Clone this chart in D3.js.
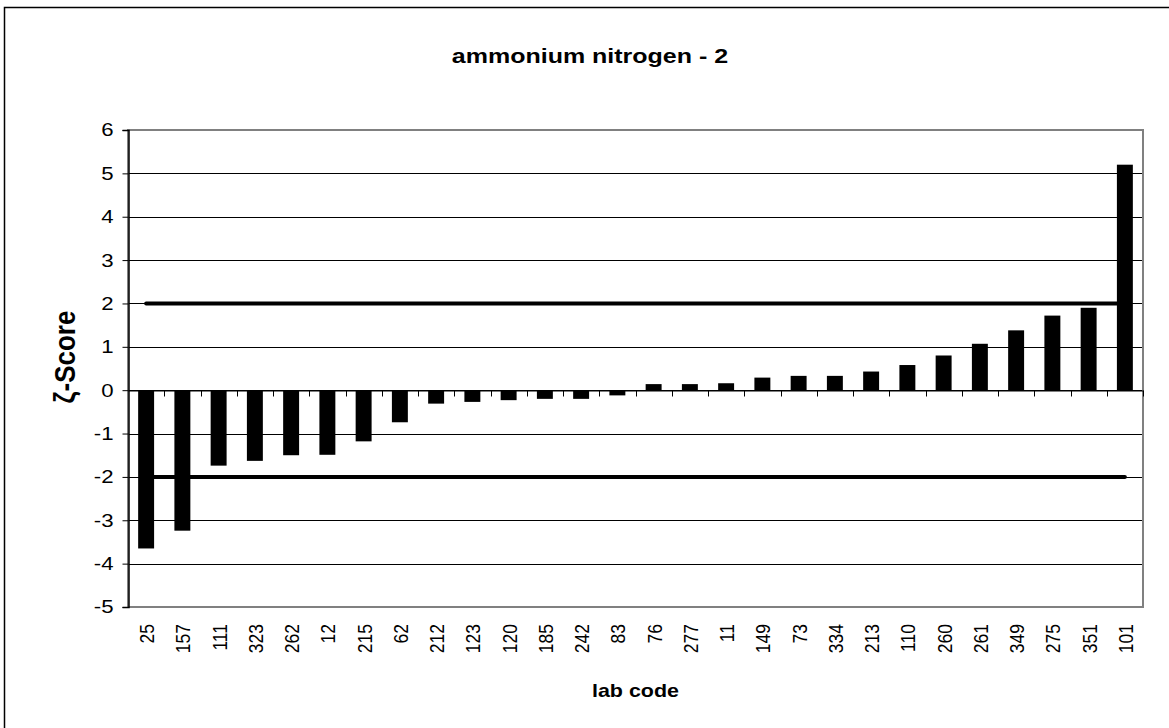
<!DOCTYPE html>
<html>
<head>
<meta charset="utf-8">
<script src="https://cdn.jsdelivr.net/npm/d3@7/dist/d3.min.js"></script>
<style>
  html, body { margin: 0; padding: 0; background: #fff; }
  svg { display: block; }
  text { font-family: "Liberation Sans", Arial, sans-serif; fill: #000; }
</style>
</head>
<body>
<svg id="chart" width="1169" height="728"></svg>
<script>
// Lab codes, sorted by score
const labCodes = ["25","157","111","323","262","12","215","62","212","123","120","185","242","83",
                  "76","277","11","149","73","334","213","110","260","261","349","275","351","101"];
// Zeta scores per lab
const zetaScores = [-3.65,-3.24,-1.74,-1.63,-1.50,-1.49,-1.18,-0.74,-0.31,-0.27,-0.23,-0.20,-0.20,-0.12,
                    0.14,0.14,0.16,0.29,0.33,0.33,0.43,0.58,0.80,1.07,1.38,1.72,1.90,5.20];
// Acceptance limits
const limits = [2, -2];
// Y axis ticks
const yTicks = [-5,-4,-3,-2,-1,0,1,2,3,4,5,6];

const svg = d3.select("#chart");
const W = 1169, H = 728;
const plot = { left: 128, right: 1143, top: 130, bottom: 607 };
// Horizontal widening applied to all lettering
const SX = 1.2;

// Outer chart frame
svg.append("rect")
  .attr("x", 4.5).attr("y", 7.5)
  .attr("width", W + 20).attr("height", H + 20)
  .attr("fill", "none").attr("stroke", "#000").attr("stroke-width", 1.5);

const x = d3.scaleBand()
  .domain(labCodes)
  .range([plot.left, plot.right])
  .paddingInner(0.56)
  .paddingOuter(0.28);

const y = d3.scaleLinear()
  .domain([-5, 6])
  .range([plot.bottom, plot.top]);

// Horizontal grid lines
svg.append("g")
  .selectAll("line")
  .data(yTicks)
  .join("line")
  .attr("x1", plot.left).attr("x2", plot.right)
  .attr("y1", d => Math.round(y(d)) + 0.5).attr("y2", d => Math.round(y(d)) + 0.5)
  .attr("stroke", "#000").attr("stroke-width", 1);

// Plot area border
svg.append("rect")
  .attr("x", plot.left).attr("y", plot.top)
  .attr("width", plot.right - plot.left).attr("height", plot.bottom - plot.top)
  .attr("fill", "none").attr("stroke", "#808080").attr("stroke-width", 2);

// Limit lines, from the first to the last category centre
const firstC = x(labCodes[0]) + x.bandwidth() / 2;
const lastC = x(labCodes[labCodes.length - 1]) + x.bandwidth() / 2;
const step = x.step();
svg.append("g")
  .selectAll("line")
  .data(limits)
  .join("line")
  .attr("x1", firstC).attr("x2", lastC)
  .attr("y1", d => y(d)).attr("y2", d => y(d))
  .attr("stroke", "#000").attr("stroke-width", 4).attr("stroke-linecap", "round");

// Bars
svg.append("g")
  .selectAll("rect")
  .data(labCodes.map((c, i) => ({ code: c, v: zetaScores[i] })))
  .join("rect")
  .attr("x", d => x(d.code))
  .attr("width", x.bandwidth())
  .attr("y", d => y(Math.max(0, d.v)))
  .attr("height", d => Math.abs(y(d.v) - y(0)))
  .attr("fill", "#000");

// X axis at zero with category tick marks between bars
const xAxis = d3.axisBottom(x).tickSize(0).tickFormat("");
const xg = svg.append("g").attr("transform", `translate(0,${Math.round(y(0)) + 0.5})`).call(xAxis);
xg.select(".domain").attr("stroke", "#000").attr("stroke-width", 1);
const boundaries = d3.range(1, labCodes.length + 1).map(i => plot.left + i * step);
xg.selectAll(".sep")
  .data(boundaries)
  .join("line")
  .attr("class", "sep")
  .attr("x1", d => Math.round(d) + 0.5).attr("x2", d => Math.round(d) + 0.5)
  .attr("y1", 0).attr("y2", 6)
  .attr("stroke", "#000");

// Y axis
const yAxis = d3.axisLeft(y).tickValues(yTicks).tickSize(6).tickFormat(d => String(d));
const yg = svg.append("g").attr("transform", `translate(${plot.left + 0.5},0)`).call(yAxis);
yg.select(".domain").attr("stroke", "#000").attr("stroke-width", 1.5);
yg.selectAll(".tick line").attr("stroke", "#000");
yg.selectAll(".tick text")
  .attr("x", -15 / SX)
  .attr("transform", `scale(${SX},1)`)
  .style("font-family", '"Liberation Sans", Arial, sans-serif')
  .style("font-size", "18.5px")
  .attr("fill", "#000");

// Rotated category labels
svg.append("g")
  .selectAll("text")
  .data(labCodes)
  .join("text")
  .attr("transform", d => `translate(${x(d) + x.bandwidth() / 2 + 8},624) rotate(-90) scale(1,${SX})`)
  .attr("text-anchor", "end")
  .style("font-size", "17.5px")
  .text(d => d);

// Title
svg.append("text")
  .attr("transform", "translate(590,63) scale(1.19,1)")
  .attr("text-anchor", "middle")
  .style("font-size", "21px").style("font-weight", "bold")
  .text("ammonium nitrogen - 2");

// Axis titles
svg.append("text")
  .attr("transform", `translate(${(plot.left + plot.right) / 2},697) scale(1.13,1)`)
  .attr("text-anchor", "middle")
  .style("font-size", "19px").style("font-weight", "bold")
  .text("lab code");

svg.append("text")
  .attr("transform", "translate(75,357) rotate(-90) scale(1,1.1)")
  .attr("text-anchor", "middle")
  .style("font-size", "26px").style("font-weight", "bold")
  .text("ζ-Score");
</script>
</body>
</html>
